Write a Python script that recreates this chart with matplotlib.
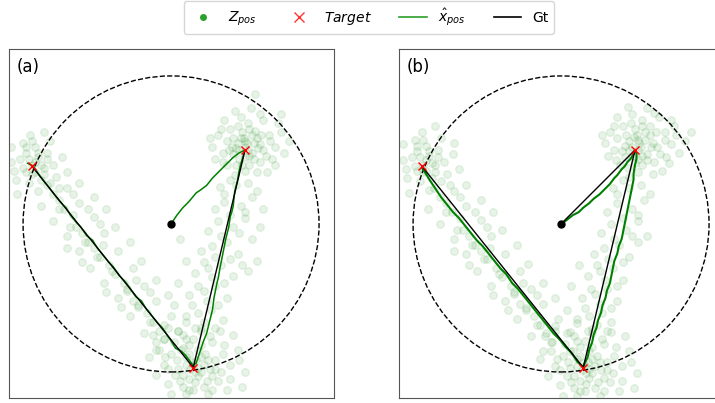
import numpy as np
import matplotlib.pyplot as plt
from matplotlib.lines import Line2D
from matplotlib.patches import Circle

# --- data (units: circle radius = 1) ---
start = (0.0, 0.0)
target_x = [0.50, 0.15, -0.94]
target_y = [0.50, -0.97, 0.39]

# measurements, panel (a)
z_a = [
    # around upper-right target
    (0.50, 0.52), (0.45, 0.55), (0.55, 0.48), (0.42, 0.47), (0.58, 0.58), (0.48, 0.62),
    (0.38, 0.56), (0.62, 0.50), (0.53, 0.40), (0.44, 0.40), (0.60, 0.42), (0.66, 0.60),
    (0.35, 0.48), (0.52, 0.68), (0.40, 0.64), (0.70, 0.52), (0.46, 0.50), (0.56, 0.55),
    (0.50, 0.45), (0.57, 0.63), (0.32, 0.60), (0.68, 0.44), (0.47, 0.72), (0.62, 0.70),
    (0.38, 0.40), (0.74, 0.62), (0.30, 0.44), (0.58, 0.35), (0.43, 0.33), (0.54, 0.78),
    (0.28, 0.52), (0.76, 0.48), (0.65, 0.35), (0.36, 0.70), (0.49, 0.58), (0.41, 0.52),
    (0.60, 0.54), (0.52, 0.50), (0.46, 0.44), (0.55, 0.60), (0.57, 0.88), (0.74, 0.74),
    (0.51, 0.55), (0.47, 0.58), (0.53, 0.46), (0.44, 0.51), (0.59, 0.51), (0.50, 0.56),
    (0.42, 0.58), (0.61, 0.60), (0.48, 0.40), (0.56, 0.44), (0.39, 0.50), (0.64, 0.46),
    (0.53, 0.64), (0.45, 0.66), (0.67, 0.56), (0.35, 0.42), (0.60, 0.74), (0.43, 0.76),
    (0.70, 0.40), (0.50, 0.36), (0.34, 0.64), (0.72, 0.68), (0.26, 0.58), (0.80, 0.56),
    # upper-right -> bottom
    (0.40, 0.30), (0.52, 0.28), (0.33, 0.25), (0.58, 0.22), (0.36, 0.15), (0.47, 0.12),
    (0.30, 0.10), (0.55, 0.18), (0.32, 0.02), (0.42, -0.02), (0.25, -0.05), (0.50, 0.04),
    (0.60, -0.02), (0.28, -0.15), (0.38, -0.12), (0.20, -0.18), (0.45, -0.20), (0.55, -0.10),
    (0.25, -0.30), (0.34, -0.28), (0.16, -0.33), (0.42, -0.35), (0.10, -0.25), (0.22, -0.45),
    (0.30, -0.42), (0.12, -0.48), (0.38, -0.50), (0.05, -0.40), (0.18, -0.60), (0.27, -0.58),
    (0.10, -0.62), (0.35, -0.65), (0.02, -0.55), (0.20, -0.72), (0.30, -0.70), (0.08, -0.75),
    (0.06, -0.10), (0.52, -0.32), (0.58, -0.25),
    (0.44, 0.26), (0.36, 0.20), (0.50, 0.08), (0.40, 0.06), (0.34, -0.08), (0.46, -0.06),
    (0.30, -0.22), (0.40, -0.24), (0.22, -0.26), (0.28, -0.36), (0.36, -0.40), (0.18, -0.42),
    (0.24, -0.52), (0.32, -0.55), (0.14, -0.55), (0.22, -0.66), (0.16, -0.70), (0.26, -0.76),
    (0.48, -0.28), (0.62, 0.10),
    # around bottom target
    (0.15, -0.95), (0.10, -0.90), (0.20, -1.00), (0.05, -0.98), (0.25, -0.92), (0.12, -1.05),
    (0.18, -0.85), (0.00, -0.88), (0.30, -0.98), (0.08, -1.10), (0.22, -1.10), (-0.05, -0.95),
    (0.35, -0.88), (0.15, -0.78), (0.02, -0.80), (0.28, -0.80), (-0.08, -0.85), (0.40, -0.95),
    (0.10, -1.15), (0.25, -1.15), (-0.02, -1.08), (0.32, -1.06), (0.05, -0.72), (0.20, -0.70),
    (-0.12, -0.75), (0.45, -0.85), (0.38, -1.12), (-0.10, -1.02), (0.13, -0.98), (0.17, -0.92),
    (0.07, -0.85), (0.23, -0.88), (0.12, -0.82), (0.18, -1.03), (0.03, -1.02), (0.28, -1.03),
    (-0.15, -0.90), (0.50, -1.00), (0.42, -0.75), (-0.05, -0.68), (0.10, -0.66), (0.33, -0.72),
    (0.15, -1.12), (0.00, -1.15), (0.48, -1.10),
    (0.14, -0.93), (0.18, -0.97), (0.10, -0.95), (0.22, -0.95), (0.16, -1.00), (0.12, -0.88),
    (0.20, -0.90), (0.08, -1.02), (0.26, -0.98), (0.04, -0.92), (0.30, -0.92), (0.16, -1.07),
    (0.06, -1.06), (0.24, -1.06), (0.20, -0.82), (0.10, -0.78), (0.34, -1.00), (-0.02, -0.98),
    (0.36, -0.82), (-0.04, -0.90), (0.12, -1.12), (0.28, -1.12), (0.40, -1.05), (-0.10, -0.80),
    (0.46, -0.92),
    # bottom -> left
    (-0.05, -0.78), (0.05, -0.72), (-0.10, -0.85), (0.08, -0.84), (-0.12, -0.66), (0.00, -0.62),
    (-0.18, -0.74), (-0.05, -0.78), (-0.22, -0.56), (-0.10, -0.52), (-0.28, -0.62), (-0.14, -0.66),
    (-0.02, -0.48), (-0.30, -0.45), (-0.18, -0.42), (-0.36, -0.50), (-0.22, -0.55), (-0.10, -0.38),
    (-0.38, -0.34), (-0.26, -0.30), (-0.45, -0.40), (-0.30, -0.44), (-0.20, -0.25), (-0.48, -0.22),
    (-0.36, -0.18), (-0.55, -0.30), (-0.40, -0.32), (-0.28, -0.12), (-0.56, -0.12), (-0.45, -0.06),
    (-0.62, -0.18), (-0.50, -0.22), (-0.38, -0.02), (-0.64, -0.02), (-0.52, 0.05), (-0.70, -0.08),
    (-0.58, -0.12), (-0.44, 0.10), (-0.72, 0.10), (-0.62, 0.14), (-0.80, 0.02), (-0.68, -0.02),
    (-0.52, 0.18), (-0.80, 0.20), (-0.70, 0.24), (-0.88, 0.12), (-0.76, 0.10), (-0.62, 0.28),
    (-0.08, -0.72), (-0.02, -0.70), (-0.16, -0.60), (-0.26, -0.52), (-0.32, -0.40), (-0.42, -0.28),
    (-0.52, -0.16), (-0.60, -0.06), (-0.66, 0.06), (-0.76, 0.16), (-0.84, 0.26), (-0.34, -0.56),
    (-0.44, -0.46), (-0.24, -0.38), (-0.14, -0.46), (-0.60, -0.26), (-0.70, -0.16), (-0.48, 0.00),
    (-0.56, 0.10), (-0.66, 0.20), (-0.46, -0.14),
    # around left corner
    (-0.94, 0.40), (-0.90, 0.45), (-0.98, 0.35), (-0.86, 0.38), (-1.02, 0.44), (-0.92, 0.52),
    (-0.84, 0.48), (-1.05, 0.30), (-0.96, 0.28), (-0.80, 0.40), (-1.00, 0.55), (-0.88, 0.30),
    (-0.78, 0.32), (-1.08, 0.42), (-0.95, 0.60), (-0.82, 0.56), (-0.74, 0.45), (-1.04, 0.20),
    (-0.90, 0.22), (-0.70, 0.35), (-0.98, 0.48), (-0.86, 0.62), (-0.76, 0.24), (-0.92, 0.35),
    (-1.08, 0.52),
    (-0.92, 0.42), (-0.96, 0.44), (-0.88, 0.40), (-0.94, 0.34), (-1.00, 0.38), (-0.90, 0.48),
    (-0.84, 0.44), (-0.98, 0.52), (-0.86, 0.34), (-1.06, 0.36), (-0.82, 0.28), (-0.94, 0.56),
]

# measurements, panel (b)
z_b = [
    (0.52, 0.50), (0.46, 0.56), (0.58, 0.47), (0.43, 0.45), (0.60, 0.60), (0.50, 0.64),
    (0.38, 0.58), (0.65, 0.52), (0.55, 0.40), (0.45, 0.38), (0.63, 0.42), (0.70, 0.62),
    (0.36, 0.50), (0.55, 0.70), (0.42, 0.66), (0.74, 0.54), (0.48, 0.52), (0.57, 0.57),
    (0.52, 0.44), (0.60, 0.66), (0.33, 0.62), (0.71, 0.45), (0.48, 0.74), (0.66, 0.72),
    (0.40, 0.40), (0.78, 0.60), (0.32, 0.46), (0.62, 0.34), (0.46, 0.32), (0.58, 0.78),
    (0.30, 0.55), (0.80, 0.48), (0.68, 0.36), (0.38, 0.72), (0.51, 0.60), (0.43, 0.53),
    (0.62, 0.55), (0.54, 0.52), (0.48, 0.46), (0.57, 0.62), (0.84, 0.56), (0.74, 0.70),
    (0.53, 0.55), (0.49, 0.59), (0.55, 0.46), (0.46, 0.50), (0.61, 0.52), (0.52, 0.57),
    (0.44, 0.60), (0.64, 0.62), (0.50, 0.41), (0.58, 0.43), (0.41, 0.49), (0.67, 0.47),
    (0.55, 0.66), (0.47, 0.68), (0.70, 0.57), (0.37, 0.43), (0.63, 0.75), (0.45, 0.79),
    (0.73, 0.41), (0.52, 0.35), (0.36, 0.66), (0.76, 0.66), (0.28, 0.60), (0.88, 0.62),
    (0.42, 0.30), (0.54, 0.26), (0.35, 0.24), (0.60, 0.20), (0.38, 0.14), (0.48, 0.10),
    (0.31, 0.08), (0.56, 0.16), (0.34, 0.00), (0.44, -0.04), (0.27, -0.06), (0.52, 0.02),
    (0.58, -0.08), (0.29, -0.16), (0.39, -0.14), (0.22, -0.20), (0.46, -0.22), (0.52, -0.12),
    (0.26, -0.32), (0.35, -0.30), (0.18, -0.35), (0.42, -0.38), (0.12, -0.28), (0.23, -0.47),
    (0.31, -0.44), (0.14, -0.50), (0.38, -0.52), (0.07, -0.42), (0.19, -0.62), (0.28, -0.60),
    (0.11, -0.64), (0.34, -0.66), (0.04, -0.58), (0.21, -0.74), (0.31, -0.72), (0.09, -0.76),
    (0.46, 0.24), (0.38, 0.20), (0.52, 0.06), (0.42, 0.04), (0.36, -0.10), (0.48, -0.08),
    (0.32, -0.24), (0.42, -0.26), (0.24, -0.28), (0.30, -0.38), (0.38, -0.42), (0.20, -0.44),
    (0.26, -0.54), (0.34, -0.57), (0.16, -0.57), (0.24, -0.68), (0.18, -0.72), (0.28, -0.78),
    (0.16, -0.96), (0.11, -0.91), (0.21, -1.01), (0.06, -0.97), (0.26, -0.93), (0.13, -1.06),
    (0.19, -0.86), (0.01, -0.89), (0.31, -0.99), (0.09, -1.11), (0.23, -1.11), (-0.04, -0.96),
    (0.36, -0.89), (0.16, -0.79), (0.03, -0.81), (0.29, -0.81), (-0.07, -0.86), (0.41, -0.96),
    (0.11, -1.16), (0.26, -1.16), (-0.01, -1.09), (0.33, -1.07), (0.06, -0.73), (0.21, -0.71),
    (-0.11, -0.76), (0.46, -0.86), (0.39, -1.13), (-0.09, -1.03), (0.14, -0.99), (0.18, -0.93),
    (0.08, -0.86), (0.24, -0.89), (0.13, -0.83), (0.19, -1.04), (0.04, -1.03), (0.29, -1.04),
    (-0.14, -0.91), (0.51, -1.01), (0.43, -0.76), (-0.04, -0.69), (0.11, -0.67), (0.34, -0.73),
    (0.16, -1.13), (0.01, -1.16), (0.49, -1.11),
    (0.15, -0.94), (0.19, -0.98), (0.11, -0.96), (0.23, -0.96), (0.17, -1.01), (0.13, -0.89),
    (0.21, -0.91), (0.09, -1.03), (0.27, -0.99), (0.05, -0.93), (0.31, -0.93), (0.17, -1.08),
    (0.07, -1.07), (0.25, -1.07), (0.21, -0.83), (0.11, -0.79), (0.35, -1.01), (-0.01, -0.99),
    (0.37, -0.83), (-0.03, -0.91), (0.13, -1.13), (0.29, -1.13), (0.41, -1.06), (0.47, -0.93),
    (-0.06, -0.80), (0.04, -0.74), (-0.12, -0.86), (0.06, -0.86), (-0.14, -0.68), (-0.02, -0.64),
    (-0.20, -0.76), (-0.07, -0.80), (-0.24, -0.58), (-0.12, -0.54), (-0.30, -0.64), (-0.16, -0.68),
    (-0.04, -0.50), (-0.32, -0.47), (-0.20, -0.44), (-0.38, -0.52), (-0.24, -0.57), (-0.12, -0.40),
    (-0.40, -0.36), (-0.28, -0.32), (-0.47, -0.42), (-0.32, -0.46), (-0.22, -0.27), (-0.50, -0.24),
    (-0.38, -0.20), (-0.57, -0.32), (-0.42, -0.34), (-0.30, -0.14), (-0.58, -0.14), (-0.47, -0.08),
    (-0.64, -0.20), (-0.52, -0.24), (-0.40, -0.04), (-0.66, -0.04), (-0.54, 0.03), (-0.72, -0.10),
    (-0.60, -0.14), (-0.46, 0.08), (-0.74, 0.08), (-0.64, 0.12), (-0.82, 0.00), (-0.70, -0.04),
    (-0.54, 0.16), (-0.82, 0.18), (-0.72, 0.22), (-0.90, 0.10), (-0.78, 0.08), (-0.64, 0.26),
    (-0.10, -0.74), (-0.04, -0.72), (-0.18, -0.62), (-0.28, -0.54), (-0.34, -0.42), (-0.44, -0.30),
    (-0.54, -0.18), (-0.62, -0.08), (-0.68, 0.04), (-0.78, 0.14), (-0.86, 0.24), (-0.36, -0.58),
    (-0.46, -0.48), (-0.26, -0.40), (-0.16, -0.48), (-0.62, -0.28), (-0.72, -0.18), (-0.50, -0.02),
    (-0.58, 0.08), (-0.68, 0.18), (-0.48, -0.16),
    (-0.93, 0.40), (-0.89, 0.46), (-0.97, 0.36), (-0.85, 0.40), (-1.01, 0.45), (-0.91, 0.53),
    (-0.83, 0.50), (-1.04, 0.31), (-0.95, 0.29), (-0.79, 0.42), (-0.99, 0.57), (-0.87, 0.31),
    (-0.77, 0.34), (-1.07, 0.43), (-0.94, 0.62), (-0.81, 0.58), (-0.73, 0.47), (-1.03, 0.21),
    (-0.89, 0.23), (-0.69, 0.37), (-0.97, 0.49), (-0.85, 0.66), (-0.75, 0.26), (-0.91, 0.36),
    (-1.07, 0.54), (-0.72, 0.55),
    (-0.91, 0.43), (-0.95, 0.45), (-0.87, 0.41), (-0.93, 0.35), (-0.99, 0.39), (-0.89, 0.49),
    (-0.83, 0.45), (-0.97, 0.53), (-0.85, 0.35), (-1.05, 0.37), (-0.81, 0.29), (-0.93, 0.57),
]

# filter estimates
xhat_a = [
    (0.00, 0.00), (0.04, 0.06), (0.08, 0.11), (0.12, 0.15), (0.17, 0.21), (0.20, 0.23),
    (0.24, 0.26), (0.28, 0.31), (0.33, 0.36), (0.37, 0.40), (0.42, 0.45), (0.46, 0.48),
    (0.50, 0.50), (0.49, 0.47), (0.47, 0.40), (0.46, 0.36), (0.45, 0.30), (0.43, 0.22),
    (0.42, 0.12), (0.41, 0.08), (0.40, 0.05), (0.39, -0.02), (0.38, -0.06), (0.37, -0.10),
    (0.35, -0.20), (0.34, -0.25), (0.33, -0.30), (0.32, -0.36), (0.31, -0.40), (0.29, -0.50),
    (0.28, -0.58), (0.27, -0.62), (0.26, -0.66), (0.24, -0.74), (0.22, -0.79), (0.21, -0.82),
    (0.19, -0.88), (0.17, -0.94), (0.14, -0.96), (0.16, -0.97),
    (0.10, -0.89), (0.07, -0.86), (0.03, -0.84), (0.00, -0.79), (-0.02, -0.76), (-0.06, -0.70),
    (-0.09, -0.67), (-0.13, -0.62), (-0.17, -0.57), (-0.20, -0.52), (-0.24, -0.49), (-0.28, -0.43),
    (-0.31, -0.39), (-0.35, -0.35), (-0.39, -0.29), (-0.42, -0.26), (-0.46, -0.21), (-0.50, -0.16),
    (-0.53, -0.11), (-0.57, -0.08), (-0.61, -0.02), (-0.64, 0.01), (-0.68, 0.06), (-0.71, 0.11),
    (-0.75, 0.15), (-0.79, 0.20), (-0.82, 0.24), (-0.86, 0.29), (-0.89, 0.33), (-0.93, 0.39),
    (-0.97, 0.41),
]

xhat_b = [
    (0.00, 0.00), (0.03, 0.02), (0.08, 0.06), (0.12, 0.08), (0.15, 0.11), (0.19, 0.14),
    (0.22, 0.17), (0.26, 0.20), (0.28, 0.22), (0.31, 0.25), (0.33, 0.27), (0.36, 0.31),
    (0.38, 0.33), (0.41, 0.37), (0.43, 0.39), (0.45, 0.42), (0.47, 0.44), (0.50, 0.49),
    (0.51, 0.48), (0.51, 0.44), (0.50, 0.40), (0.49, 0.34), (0.49, 0.30), (0.48, 0.25),
    (0.47, 0.20), (0.46, 0.15), (0.45, 0.10), (0.44, 0.05), (0.43, 0.00), (0.42, -0.05),
    (0.41, -0.10), (0.39, -0.15), (0.38, -0.20), (0.36, -0.25), (0.35, -0.30), (0.34, -0.35),
    (0.33, -0.40), (0.31, -0.45), (0.30, -0.50), (0.28, -0.55), (0.27, -0.60), (0.25, -0.65),
    (0.24, -0.70), (0.22, -0.75), (0.21, -0.80), (0.19, -0.85), (0.18, -0.90), (0.16, -0.94),
    (0.15, -0.97),
    (0.11, -0.93), (0.07, -0.87), (0.03, -0.83), (-0.01, -0.78), (-0.05, -0.74), (-0.09, -0.69),
    (-0.13, -0.64), (-0.17, -0.59), (-0.21, -0.54), (-0.25, -0.49), (-0.29, -0.44), (-0.33, -0.40),
    (-0.37, -0.34), (-0.41, -0.30), (-0.45, -0.25), (-0.49, -0.20), (-0.53, -0.15), (-0.57, -0.11),
    (-0.61, -0.06), (-0.65, -0.01), (-0.69, 0.04), (-0.73, 0.08), (-0.77, 0.13), (-0.81, 0.18),
    (-0.85, 0.24), (-0.89, 0.30), (-0.92, 0.35), (-0.94, 0.38),
]

panels = [
    ("(a)", z_a, xhat_a, False),
    ("(b)", z_b, xhat_b, True),
]

fig = plt.figure(figsize=(7.15, 4.03), dpi=100)

for i, (label, z, xhat, gt_from_start) in enumerate(panels):
    left = (9 + 390 * i) / 715
    ax = fig.add_axes([left, 5 / 403, 325 / 715, 349 / 403])

    zx, zy = zip(*z)
    ax.scatter(zx, zy, s=30, color="green", alpha=0.09)

    ax.add_patch(Circle(start, 1.0, fill=False, ls="--", lw=1.0, color="black"))

    hx, hy = zip(*xhat)
    ax.plot(hx, hy, color="green", lw=1.5 if i else 1.1)

    gx, gy = list(target_x), list(target_y)
    if gt_from_start:
        gx, gy = [start[0]] + gx, [start[1]] + gy
    ax.plot(gx, gy, color="black", lw=1.0)

    ax.plot(target_x, target_y, "x", color="red", ms=6, mew=1.0)
    ax.plot(*start, "o", color="black", ms=5)

    ax.set_xlim(-1.095, 1.101)
    ax.set_ylim(-1.176, 1.182)
    ax.set_xticks([])
    ax.set_yticks([])
    for sp in ax.spines.values():
        sp.set_color("#555555")
    ax.text(0.025, 0.975, label, transform=ax.transAxes, va="top", ha="left", fontsize=12)

handles = [
    Line2D([], [], marker="o", ls="", color="#2ca02c", ms=4),
    Line2D([], [], marker="x", ls="", color="#ff3333", ms=7, mew=1.0),
    Line2D([], [], color="#2ca02c", lw=1.2),
    Line2D([], [], color="black", lw=1.2),
]
labels = [r"$Z_{pos}$", r"$Target$", r"$\hat{x}_{pos}$", "Gt"]
fig.legend(handles, labels, loc="upper center", bbox_to_anchor=(0.516, 1.0),
           ncol=4, fontsize=10, frameon=True, borderaxespad=0.1)

fig.savefig("out.png", dpi=100)
